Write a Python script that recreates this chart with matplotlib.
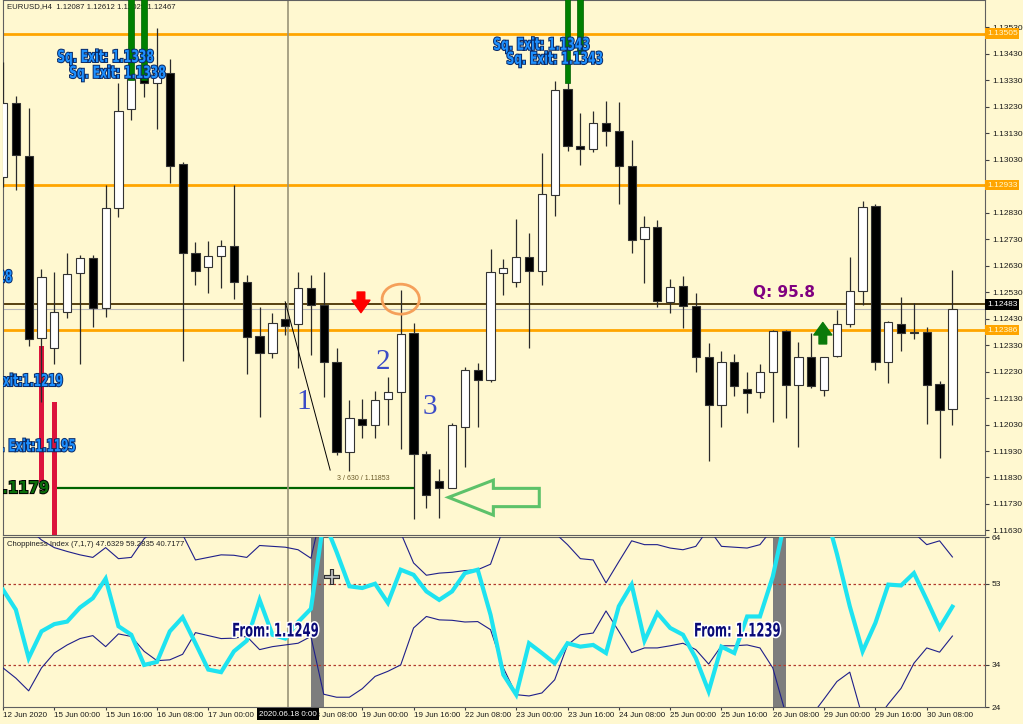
import matplotlib
matplotlib.use("Agg")
import matplotlib.pyplot as plt
import matplotlib.patheffects as pe
import matplotlib.transforms as mtransforms
from matplotlib.patches import PathPatch, Ellipse, Polygon
from matplotlib.textpath import TextPath
from matplotlib.font_manager import FontProperties

plt.rcParams["font.family"] = ["Liberation Sans", "DejaVu Sans"]

# EURUSD H4, 12 Jun - 30 Jun 2020
opens = [1.12965, 1.13244, 1.13044, 1.12355, 1.12320, 1.12453, 1.12600, 1.12657, 1.12468, 1.12846,
         1.13219, 1.13336, 1.13320, 1.13358, 1.13012, 1.12676, 1.12625, 1.12667, 1.12705, 1.12567,
         1.12364, 1.12301, 1.12427, 1.12408, 1.12546, 1.12481, 1.12265, 1.11925, 1.12049, 1.12028,
         1.12125, 1.12151, 1.12374, 1.11917, 1.11817, 1.11792, 1.12022, 1.12236, 1.12198, 1.12603,
         1.12569, 1.12663, 1.12610, 1.12896, 1.13295, 1.13081, 1.13068, 1.13167, 1.13139, 1.13007,
         1.12729, 1.12774, 1.12491, 1.12554, 1.12478, 1.12286, 1.12103, 1.12265, 1.12163, 1.12152,
         1.12229, 1.12383, 1.12179, 1.12286, 1.12160, 1.12288, 1.12409, 1.12534, 1.12856, 1.12265,
         1.12408, 1.12378, 1.12380, 1.12182, 1.12087]
highs = [1.13399, 1.13270, 1.13223, 1.12616, 1.12604, 1.12676, 1.12670, 1.12670, 1.12933, 1.13318,
         1.13360, 1.13475, 1.13525, 1.13408, 1.13022, 1.12720, 1.12723, 1.12726, 1.12933, 1.12594,
         1.12474, 1.12452, 1.12487, 1.12607, 1.12594, 1.12607, 1.12317, 1.12122, 1.12125, 1.12157,
         1.12210, 1.12537, 1.12414, 1.11930, 1.11861, 1.12034, 1.12248, 1.12263, 1.12691, 1.12654,
         1.12804, 1.12754, 1.13053, 1.13326, 1.13380, 1.13204, 1.13214, 1.13251, 1.13246, 1.13104,
         1.12818, 1.12802, 1.12579, 1.12591, 1.12527, 1.12336, 1.12308, 1.12296, 1.12229, 1.12258,
         1.12386, 1.12386, 1.12342, 1.12376, 1.12286, 1.12462, 1.12663, 1.12873, 1.12862, 1.12420,
         1.12510, 1.12487, 1.12397, 1.12194, 1.12612]
lows = [1.12927, 1.12915, 1.12326, 1.12116, 1.12258, 1.12431, 1.12258, 1.12397, 1.12434, 1.12814,
        1.13179, 1.13267, 1.13144, 1.12940, 1.12271, 1.12556, 1.12525, 1.12544, 1.12502, 1.12219,
        1.12059, 1.12280, 1.12368, 1.12242, 1.12292, 1.12135, 1.11915, 1.11853, 1.11978, 1.11980,
        1.12028, 1.11936, 1.11673, 1.11714, 1.11676, 1.11790, 1.11871, 1.12022, 1.12190, 1.12519,
        1.12550, 1.12317, 1.12556, 1.12817, 1.13062, 1.13009, 1.13059, 1.13081, 1.12862, 1.12676,
        1.12563, 1.12472, 1.12450, 1.12393, 1.12229, 1.11893, 1.12022, 1.12137, 1.12074, 1.12129,
        1.12040, 1.12055, 1.11944, 1.12166, 1.12137, 1.12286, 1.12397, 1.12481, 1.12236, 1.12185,
        1.12308, 1.12351, 1.12031, 1.11902, 1.12029]
closes = [1.13242, 1.13047, 1.12353, 1.12588, 1.12456, 1.12597, 1.12657, 1.12468, 1.12846, 1.13213,
          1.13333, 1.13320, 1.13355, 1.13007, 1.12676, 1.12610, 1.12666, 1.12705, 1.12567, 1.12361,
          1.12301, 1.12412, 1.12403, 1.12546, 1.12481, 1.12267, 1.11925, 1.12053, 1.12028, 1.12122,
          1.12154, 1.12370, 1.11917, 1.11764, 1.11789, 1.12028, 1.12236, 1.12198, 1.12604, 1.12622,
          1.12661, 1.12610, 1.12899, 1.13292, 1.13081, 1.13068, 1.13167, 1.13139, 1.13005, 1.12726,
          1.12774, 1.12497, 1.12550, 1.12478, 1.12286, 1.12103, 1.12265, 1.12176, 1.12150, 1.12229,
          1.12383, 1.12179, 1.12286, 1.12175, 1.12286, 1.12409, 1.12534, 1.12852, 1.12267, 1.12418,
          1.12374, 1.12376, 1.12179, 1.12085, 1.12467]

# Choppiness Index (7,1,7): main line and its two bands
chop = [51.6, 46.9, 35.5, 41.8, 43.5, 44.1, 47.4, 49.6, 54.2, 43.0,
        41.0, 33.9, 34.6, 41.8, 45.1, 39.0, 32.8, 32.2, 37.1, 39.6,
        49.2, 41.0, 40.1, 44.0, 47.1, 68.0, 60.5, 52.4, 52.0, 53.0,
        48.5, 56.3, 55.1, 51.2, 49.2, 51.2, 55.5, 56.3, 45.7, 31.6,
        26.9, 39.0, 36.7, 34.3, 39.0, 38.2, 38.6, 36.7, 47.7, 52.8,
        39.6, 46.1, 42.6, 41.0, 35.5, 27.7, 38.2, 36.7, 45.3, 45.3,
        54.7, 68.6, 74.0, 74.0, 71.0, 60.0, 47.7, 37.1, 43.8, 52.8,
        52.6, 55.5, 49.2, 42.6, 47.6]
chop_upper = [68.0, 67.0, 66.0, 63.3, 61.5, 60.6, 59.8, 59.2, 61.5, 58.9,
              59.2, 63.6, 66.0, 66.0, 64.6, 58.6, 59.2, 59.8, 59.7, 59.2,
              62.0, 61.8, 61.6, 61.0, 59.0, 72.0, 74.0, 73.0, 72.0, 70.0,
              68.0, 65.0, 57.9, 55.0, 55.5, 55.7, 56.1, 56.3, 57.6, 66.0,
              70.0, 68.0, 66.0, 65.0, 62.2, 58.9, 58.6, 53.2, 58.2, 63.1,
              62.2, 62.2, 61.4, 61.0, 61.8, 66.0, 61.8, 61.6, 61.4, 62.2,
              66.0, 74.0, 76.0, 75.0, 73.0, 72.0, 70.0, 72.0, 71.0, 69.0,
              67.0, 65.0, 62.2, 63.1, 59.3]
chop_lower = [33.2, 30.8, 27.8, 33.2, 36.7, 38.6, 40.1, 40.8, 38.2, 41.2,
              40.6, 37.1, 34.9, 35.1, 36.4, 41.5, 40.8, 40.1, 40.2, 40.6,
              37.5, 38.2, 38.6, 39.0, 40.6, 27.0, 26.3, 26.3, 28.3, 31.2,
              32.4, 33.9, 42.6, 45.3, 44.5, 44.4, 44.0, 44.1, 42.2, 33.2,
              26.9, 26.6, 27.3, 30.4, 38.6, 41.0, 41.4, 46.6, 41.8, 36.8,
              37.9, 37.9, 38.4, 39.0, 37.5, 34.1, 38.4, 38.4, 38.6, 37.9,
              33.2, 22.5, 20.0, 21.9, 25.9, 30.0, 32.2, 21.5, 20.5, 24.7,
              28.4, 34.3, 37.9, 36.9, 40.7]
squeeze_bars = [24, 60]          # grey histogram bars in the indicator window
squeeze_from = ["From: 1.1249", "From: 1.1239"]

date_labels = ["12 Jun 2020", "15 Jun 00:00", "15 Jun 16:00", "16 Jun 08:00", "17 Jun 00:00",
               "17 Jun 16:00", "18 Jun 08:00", "19 Jun 00:00", "19 Jun 16:00", "22 Jun 08:00",
               "23 Jun 00:00", "23 Jun 16:00", "24 Jun 08:00", "25 Jun 00:00", "25 Jun 16:00",
               "26 Jun 08:00", "29 Jun 00:00", "29 Jun 16:00", "30 Jun 08:00"]
label_bars = list(range(0, 75, 4))

# 1.12930 is hidden behind the 1.12933 level box on the original scale
price_ticks = [1.13530, 1.13430, 1.13330, 1.13230, 1.13130, 1.13030, 1.12830, 1.12730,
               1.12630, 1.12530, 1.12430, 1.12330, 1.12230, 1.12130, 1.12030, 1.11930, 1.11830,
               1.11730, 1.11630]
orange_levels = [1.13505, 1.12933, 1.12386]
brown_level = 1.12483
bid_level = 1.12467
target_level = 1.1179

# "Sq. Exit" marker bars (green up top, red below)
green_bars = [10, 11, 44, 45]
green_bottoms = [1.1333, 1.1333, 1.1332, 1.1343]
red_bars = [3, 4]
red_tops = [1.12326, 1.12115]
red_bottoms = [1.11813, 1.1160]

# hand drawn objects
trend_x = [22.0, 25.5]
trend_y = [1.12493, 1.11858]
hollow_arrow_x = [34.72, 38.22, 38.22, 41.80, 41.80, 38.22, 38.22]
hollow_arrow_y = [1.11755, 1.11820, 1.11789, 1.11789, 1.11720, 1.11720, 1.11688]
cursor_bar = 22.2

BG = "#FFF8D0"
fig = plt.figure(figsize=(10.23, 7.24), dpi=100, facecolor=BG)
ax = fig.add_axes([3 / 1023, 1 - 535 / 724, 982 / 1023, 535 / 724], facecolor=BG)
ax2 = fig.add_axes([3 / 1023, 17 / 724, 982 / 1023, 170 / 724], facecolor=BG)

ax.set_xlim(0, 76.54)
ax.set_ylim(1.11613, 1.13632)
ax2.set_xlim(0, 76.54)
ax2.set_ylim(24, 64)


def squeezed(axis, x, y, s, size, squeeze, color, edge, ha="left", stroke=1.4, weight="bold"):
    # condensed bold label, drawn as a text path squashed horizontally
    fp = FontProperties(family="DejaVu Sans", weight=weight)
    tp = TextPath((0, 0), s, size=size, prop=fp)
    bb = tp.get_extents()
    dx = -bb.x0 if ha == "left" else -bb.x1
    dy = -size * 0.365
    k = fig.dpi / 72.0
    tr = (mtransforms.Affine2D().translate(dx, dy).scale(squeeze * k, k)
          + mtransforms.ScaledTranslation(x, y, axis.transData))
    patch = PathPatch(tp, transform=tr, facecolor=color, edgecolor="none", zorder=9)
    patch.set_path_effects([pe.withStroke(linewidth=stroke, foreground=edge)])
    axis.add_patch(patch)


# ---------- main price window ----------
for lv in orange_levels:
    ax.axhline(lv, color="#FFA500", lw=2.0, zorder=1)
ax.axhline(brown_level, color="#4A3200", lw=1.3, zorder=1)
ax.axhline(bid_level, color="#B8B8B8", lw=0.8, zorder=1)
ax.hlines(target_level, 4.2, 32.0, color="#006400", lw=1.6, zorder=1)
ax.axvline(cursor_bar, color="#9A9478", lw=1.2, zorder=1)

xs = list(range(len(opens)))
ax.vlines(xs, lows, highs, color="#2A2A2A", lw=0.9, zorder=3)
for i in xs:
    o, c = opens[i], closes[i]
    body = max(abs(c - o), 0.00003)
    fc = "white" if c >= o else "black"
    ax.bar(i, body, bottom=min(o, c), width=0.64, color=fc, edgecolor="#333333",
           linewidth=0.8, zorder=4)

ax.bar(green_bars, [1.14 - b for b in green_bottoms], bottom=green_bottoms, width=0.45,
       color="#008000", edgecolor="#006000", lw=0.5, zorder=5)
ax.bar(red_bars, [t - b for t, b in zip(red_tops, red_bottoms)], bottom=red_bottoms,
       width=0.4, color="#DC143C", lw=0, zorder=2)

ax.plot(trend_x, trend_y, color="black", lw=0.7, zorder=6)
ax.text(28.06, 1.11828, "3 / 630 / 1.11853", fontsize=5, color="#6B5B2A", ha="center",
        va="center", zorder=7)

ax.add_patch(Ellipse((31.0, 1.12503), 2.9, 0.00113, fill=False, ec="#F5A05A", lw=2, zorder=7))
ax.add_patch(Polygon(list(zip(hollow_arrow_x, hollow_arrow_y)), closed=True, fill=False,
                     ec="#5DC26A", lw=2.2, joinstyle="miter", zorder=7))
ax.annotate("", xy=(27.9, 1.12452), xytext=(27.9, 1.12530),
            arrowprops=dict(arrowstyle="simple,head_length=0.9,head_width=1.3,tail_width=0.55",
                            fc="#FF0000", ec="#FF0000", mutation_scale=10, shrinkA=0, shrinkB=0),
            zorder=7)
ax.annotate("", xy=(63.9, 1.12415), xytext=(63.9, 1.12334),
            arrowprops=dict(arrowstyle="simple,head_length=0.9,head_width=1.3,tail_width=0.55",
                            fc="#0B7A0B", ec="#0B7A0B", mutation_scale=10, shrinkA=0, shrinkB=0),
            zorder=7)

for lbl, bx, py in [("1", 23.46, 1.12116), ("2", 29.62, 1.12267), ("3", 33.28, 1.12097)]:
    ax.text(bx, py, lbl, fontsize=21, family="Liberation Serif", color="#3C4CC6",
            ha="center", va="center", zorder=7)

ax.text(58.46, 1.12528, "Q: 95.8", fontsize=11, fontweight="bold", family="DejaVu Sans",
        color="#800080", va="center", ha="left", zorder=7)

blue, shadow = "#1E90FF", "#0A2A66"
squeezed(ax, 4.29, 1.13421, "Sq. Exit: 1.1338", 12, 0.65, blue, shadow)
squeezed(ax, 5.22, 1.13361, "Sq. Exit: 1.1338", 12, 0.65, blue, shadow)
squeezed(ax, 38.27, 1.13467, "Sq. Exit: 1.1343", 12, 0.65, blue, shadow)
squeezed(ax, 39.30, 1.13414, "Sq. Exit: 1.1343", 12, 0.65, blue, shadow)
squeezed(ax, 0.68, 1.12590, "Sq. Exit:1.1228", 12, 0.63, blue, shadow, ha="right")
squeezed(ax, 4.62, 1.12198, "Sq. Exit:1.1219", 12, 0.63, blue, shadow, ha="right")
squeezed(ax, 5.61, 1.11952, "Sq. Exit:1.1195", 12, 0.63, blue, shadow, ha="right")
squeezed(ax, 3.53, 1.11794, "1.1179", 12, 0.89, "#0A6E0A", "black", ha="right")

ax.text(0.004, 0.995, "EURUSD,H4  1.12087 1.12612 1.12029 1.12467", transform=ax.transAxes,
        fontsize=5.6, color="#202020", va="top", ha="left")

ax.yaxis.tick_right()
ax.set_yticks(price_ticks)
ax.set_yticklabels([f"{v:.5f}" for v in price_ticks])
ax.set_xticks([])
ax.tick_params(axis="y", labelsize=6, length=3, color="#404040", labelcolor="#1A1A1A", pad=2)
rtrans = mtransforms.blended_transform_factory(ax.transAxes, ax.transData)
for lv in orange_levels:
    ax.text(1.002, lv, f"{lv:.5f}", transform=rtrans, fontsize=6, color="#FFF8D0",
            va="center", ha="left", clip_on=False, zorder=10,
            bbox=dict(boxstyle="square,pad=0.2", fc="#FFA500", ec="none"))
ax.text(1.002, brown_level, f"{brown_level:.5f}", transform=rtrans, fontsize=6, color="white",
        va="center", ha="left", clip_on=False, zorder=10,
        bbox=dict(boxstyle="square,pad=0.2", fc="black", ec="none"))

# ---------- choppiness window ----------
for b in squeeze_bars:
    ax2.axvspan(b, b + 1, color="#7D7D7D", lw=0, zorder=1)
ax2.axhline(53, color="#B03A2E", ls=(0, (2, 2)), lw=0.9, zorder=1)
ax2.axhline(34, color="#B03A2E", ls=(0, (2, 2)), lw=0.9, zorder=1)
ax2.axvline(cursor_bar, color="#9A9478", lw=1.2, zorder=1)
ax2.plot(xs, chop_upper, color="#1F1F8A", lw=0.8, zorder=3)
ax2.plot(xs, chop_lower, color="#1F1F8A", lw=0.8, zorder=3)
ax2.plot(xs, chop, color="#1EE3F0", lw=3, zorder=4, solid_joinstyle="miter")

for b, s in zip(squeeze_bars, squeeze_from):
    squeezed(ax2, b + 0.55, 42.2, s, 13.5, 0.62, "#0A0A78", "white", ha="right", stroke=2.2)

ax2.plot(25.64, 54.6, marker="+", ms=11, mew=3, color="#303030", zorder=8)
ax2.plot(25.64, 54.6, marker="+", ms=10, mew=1.2, color="#C8C8C8", zorder=9)

ax2.text(0.004, 0.975, "Choppiness Index (7,1,7) 47.6329 59.2835 40.7177",
         transform=ax2.transAxes, fontsize=5.6, color="#202020", va="top", ha="left")

ax2.yaxis.tick_right()
ax2.set_yticks([24, 34, 53, 64])
ax2.tick_params(axis="y", labelsize=6, length=3, color="#404040", labelcolor="#1A1A1A", pad=2)
ax2.set_xticks(label_bars)
ax2.set_xticklabels(date_labels)
ax2.tick_params(axis="x", labelsize=5.8, length=2, color="#404040", labelcolor="#1A1A1A", pad=1.5)
for b, t in zip(label_bars, ax2.get_xticklabels()):
    t.set_horizontalalignment("left")
    # the label right under the cursor is covered by the cursor's date box
    if abs(b + 2 - cursor_bar) < 0.5:
        t.set_visible(False)
ax2.text(cursor_bar, -0.022, "2020.06.18 0:00",
         transform=mtransforms.blended_transform_factory(ax2.transData, ax2.transAxes),
         fontsize=5.8, color="white", ha="center", va="top", clip_on=False, zorder=10,
         bbox=dict(boxstyle="square,pad=0.3", fc="black", ec="none"))

for a in (ax, ax2):
    for sp in a.spines.values():
        sp.set_color("#606060")
        sp.set_linewidth(0.8)

fig.savefig("out.png", dpi=100, facecolor=BG)
